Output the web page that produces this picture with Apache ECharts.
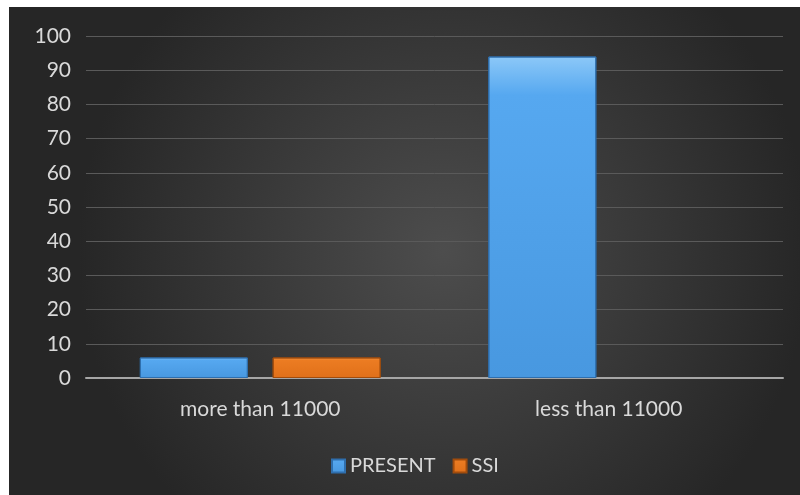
<!DOCTYPE html>
<html><head><meta charset="utf-8">
<script src="https://cdn.jsdelivr.net/npm/echarts@6/dist/echarts.min.js"></script>
<style>
html,body{margin:0;padding:0;background:#fff;width:800px;height:495px;overflow:hidden}
#c{position:absolute;left:9px;top:7px;width:791px;height:488px}
</style></head><body>
<div id="c"></div>
<script>
var categories = ['more than 11000', 'less than 11000'];
var presentValues = [6, 94];
var ssiValues = [6, null];
var yTicks = {min: 0, max: 100, interval: 10};

var chart = echarts.init(document.getElementById('c'));
var font = 'Lato, "Open Sans", sans-serif';
function barColor(top, mid, bottom){
  return new echarts.graphic.LinearGradient(0,0,0,1,[
    {offset:0,color:top},{offset:0.12,color:mid},{offset:1,color:bottom}]);
}
chart.setOption({
  backgroundColor: new echarts.graphic.RadialGradient(0.55,0.5,0.75,[
    {offset:0,color:'#4d4d4d'},{offset:1,color:'#262626'}]),
  grid:{left:77,right:17,top:29,bottom:117},
  legend:{
    bottom:14, left:317, itemWidth:13, itemHeight:13, itemGap:17,
    icon:'rect',
    textStyle:{color:'#d9d9d9',fontSize:20,fontFamily:font},
    data:['PRESENT','SSI']
  },
  xAxis:{
    type:'category', data:categories,
    axisLine:{lineStyle:{color:'#a6a6a6',width:2}},
    axisTick:{show:false},
    axisLabel:{color:'#d9d9d9',fontSize:21,fontFamily:font,margin:21}
  },
  yAxis:{
    type:'value', min:yTicks.min, max:yTicks.max, interval:yTicks.interval,
    axisLine:{show:false}, axisTick:{show:false},
    axisLabel:{color:'#d9d9d9',fontSize:21,fontFamily:font,margin:15},
    splitLine:{lineStyle:{color:'#5a5a5a',width:1}}
  },
  series:[
    {name:'PRESENT', type:'bar', data:presentValues, barWidth:108, barGap:'23%',
     itemStyle:{color:barColor('#8cc8f8','#56a8f0','#4898e0'), borderColor:'#2f6fae', borderWidth:1}},
    {name:'SSI', type:'bar', data:ssiValues, barWidth:108,
     itemStyle:{color:barColor('#f6a55a','#ec7c22','#e0701a'), borderColor:'#a24c0c', borderWidth:1}}
  ]
});
</script></body></html>
